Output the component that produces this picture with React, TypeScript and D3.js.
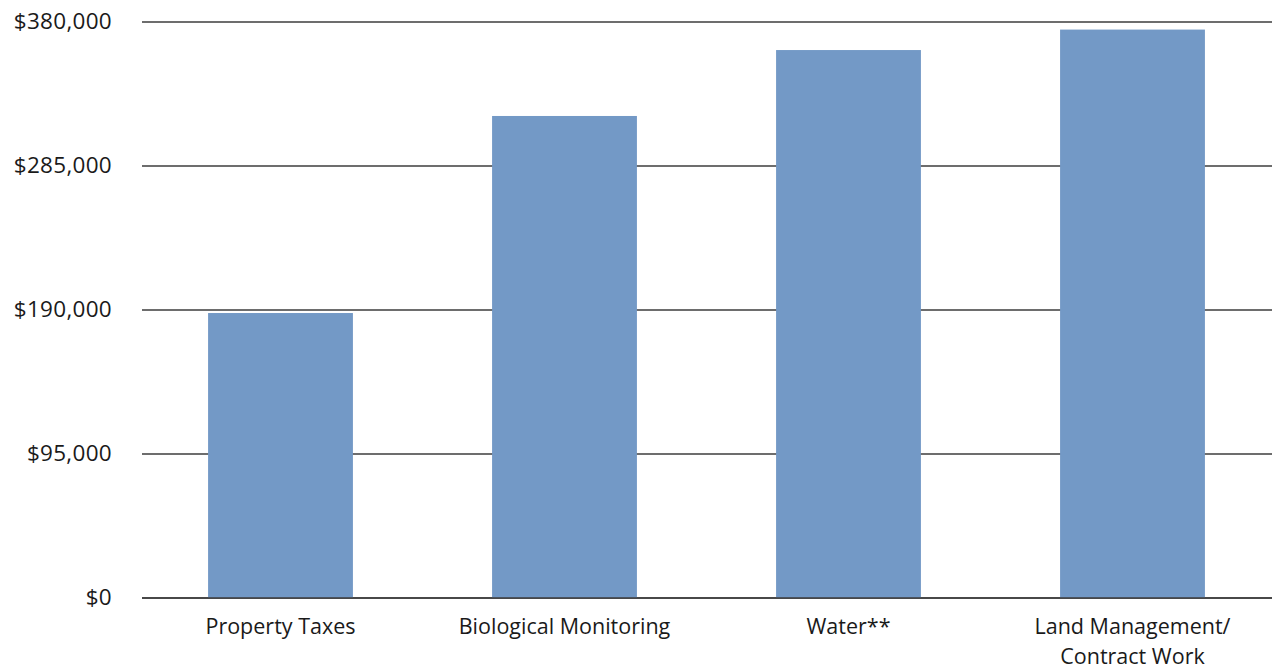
import * as React from "react";
import * as d3 from "d3";

const categories = ["Property Taxes", "Biological Monitoring", "Water**", "Land Management/\nContract Work"];
const values = [188000, 318000, 361500, 375000];
const yTicks = [0, 95000, 190000, 285000, 380000];

const W = 1272;
const H = 671;
const margin = { top: 22, right: 0, bottom: 73, left: 142 };

export default function App() {
  const y = d3.scaleLinear().domain([0, 380000]).range([H - margin.bottom, margin.top]);
  const x = d3.scaleBand().domain(categories).range([138.5, 1274.5]).paddingInner(0.49).paddingOuter(0.245);
  const fmt = (v: number) => "$" + d3.format(",")(v);
  const font = "'Open Sans', sans-serif";

  return (
    <svg width={W} height={H} style={{ position: "absolute", left: 0, top: 0 }}>
      {yTicks.map((t) => (
        <g key={t}>
          <line x1={margin.left} x2={W} y1={y(t)} y2={y(t)} stroke="#3c3c3c" strokeWidth={1.4} />
          <text x={112} y={y(t)} dy="0.33em" textAnchor="end" fontFamily={font} fontSize={22.5} fill="#1a1a1a" letterSpacing={0.3}>
            {fmt(t)}
          </text>
        </g>
      ))}
      {categories.map((c, i) => (
        <rect
          key={c}
          x={x(c)}
          y={y(values[i])}
          width={x.bandwidth()}
          height={y(0) - y(values[i])}
          fill="#7399c6"
        />
      ))}
      <line x1={margin.left} x2={W} y1={y(0)} y2={y(0)} stroke="#3c3c3c" strokeWidth={1.6} />
      {categories.map((c) => (
        <text key={c} x={(x(c) as number) + x.bandwidth() / 2} y={634} textAnchor="middle" fontFamily={font} fontSize={21.5} fill="#1a1a1a">
          {c.split("\n").map((line, j) => (
            <tspan key={j} x={(x(c) as number) + x.bandwidth() / 2} dy={j === 0 ? 0 : 30}>
              {line}
            </tspan>
          ))}
        </text>
      ))}
    </svg>
  );
}
